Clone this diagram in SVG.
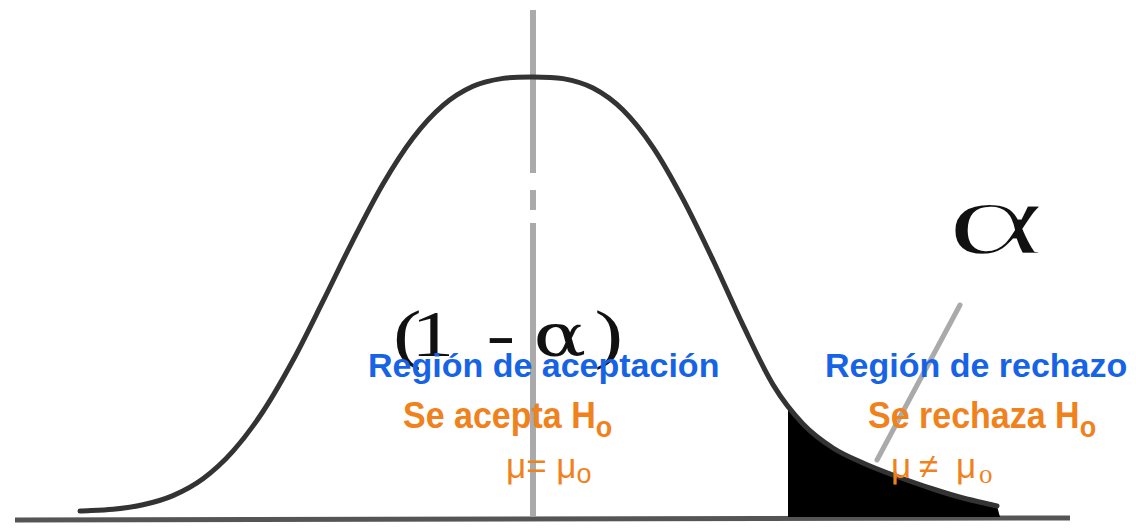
<svg xmlns="http://www.w3.org/2000/svg" width="1136" height="528" viewBox="0 0 1136 528">
<style>
.curve{fill:none;stroke:#333;stroke-width:5;stroke-linecap:round;stroke-linejoin:round}
.axis{stroke:#555;stroke-width:5}
.center{stroke:#aaa;stroke-width:6;fill:none}
.pointer{stroke:#aaa;stroke-width:5;stroke-linecap:round}
.greek{font-family:"Liberation Serif","Times New Roman",serif;fill:#111}
.blue{font-family:"Liberation Sans",Arial,sans-serif;font-weight:bold;font-size:34px;fill:#1763e6}
.orange{font-family:"Liberation Sans",Arial,sans-serif;font-weight:bold;font-size:34px;fill:#f0821e}
.mu{font-family:"Liberation Sans",Arial,sans-serif;font-size:35px;fill:#f0821e}
</style>
<defs>
<path id="bell" d="M80,511 C91,510.4 102.5,510.2 113,509.2 C123.5,508.2 133,507.1 143,504.8 C153,502.5 163,499.9 173,495.6 C183,491.2 193,486.1 203,478.7 C213,471.3 223,462.3 233,451.1 C243,439.9 253,426.6 263,411.5 C273,396.4 283,378.7 293,360.3 C303,341.9 313,321.2 323,301.2 C333,281.2 343,259.8 353,240.3 C363,220.8 373,201.1 383,184 C393,166.9 403,151.1 413,138 C423,124.9 433,114 443,105.4 C453,96.8 463,90.8 473,86.3 C483,81.8 493,80 503,78.4 C513,76.9 523,77 533,77 C543,77 553,77 563,78.6 C573,80.4 583,82.8 593,88 C603,93.2 613,100.1 623,110 C633,119.9 643,132.5 653,147.3 C663,162.2 673,180.3 683,199.1 C693,217.9 703,239 713,260 C723,281 733,304.4 743,325.2 C753,346 763,368.1 773,384.6 C783,401.1 793,413.4 803,424 C813,434.6 823,441.5 833,448 C843,454.5 853,458.5 863,463 C873,467.5 881.3,470.7 893,475 C904.7,479.3 921.3,485.2 933,489 C944.7,492.8 952.3,495.2 963,498 C973.7,500.8 985.7,503.3 997,506"/>
<clipPath id="tail"><rect x="788" y="300" width="214" height="217"/></clipPath>
</defs>
<rect width="1136" height="528" fill="#fff"/>
<g id="axis">
<line class="axis" x1="15" y1="520" x2="1070" y2="518"/>
</g>
<g id="center-line">
<path class="center" d="M533,10 V173 M533,190 V210 M533,223 V516"/>
</g>
<g id="rejection-area">
<path d="M80,511 C91,510.4 102.5,510.2 113,509.2 C123.5,508.2 133,507.1 143,504.8 C153,502.5 163,499.9 173,495.6 C183,491.2 193,486.1 203,478.7 C213,471.3 223,462.3 233,451.1 C243,439.9 253,426.6 263,411.5 C273,396.4 283,378.7 293,360.3 C303,341.9 313,321.2 323,301.2 C333,281.2 343,259.8 353,240.3 C363,220.8 373,201.1 383,184 C393,166.9 403,151.1 413,138 C423,124.9 433,114 443,105.4 C453,96.8 463,90.8 473,86.3 C483,81.8 493,80 503,78.4 C513,76.9 523,77 533,77 C543,77 553,77 563,78.6 C573,80.4 583,82.8 593,88 C603,93.2 613,100.1 623,110 C633,119.9 643,132.5 653,147.3 C663,162.2 673,180.3 683,199.1 C693,217.9 703,239 713,260 C723,281 733,304.4 743,325.2 C753,346 763,368.1 773,384.6 C783,401.1 793,413.4 803,424 C813,434.6 823,441.5 833,448 C843,454.5 853,458.5 863,463 C873,467.5 881.3,470.7 893,475 C904.7,479.3 921.3,485.2 933,489 C944.7,492.8 952.3,495.2 963,498 C973.7,500.8 985.7,503.3 997,506 L1000,517 L80,517 Z" fill="#000" clip-path="url(#tail)"/>
</g>
<g id="curve">
<use href="#bell" class="curve"/>
</g>
<g id="connectors">
<line class="pointer" x1="960" y1="305" x2="877" y2="460"/>
</g>
<g id="alpha-label">
<text class="greek" transform="translate(946,254) scale(1.75,0.98)" font-size="108" stroke="#fff" stroke-width="2.5">α</text>
</g>
<g id="one-minus-alpha">
<text class="greek" transform="translate(393,356) scale(1.3,1)" font-size="66">(<tspan x="14">1</tspan> <tspan x="72">-</tspan> <tspan x="108" font-family="DejaVu Serif, serif" font-size="60">α</tspan><tspan x="155">)</tspan></text>
</g>
<g id="acceptance">
<text class="blue" x="368" y="377">Región de aceptación</text>
<text class="orange" transform="translate(403,428) scale(1,1.1)">Se acepta H<tspan font-size="27" dy="8">o</tspan></text>
<text class="mu" x="506" y="478">μ= μ<tspan font-size="27" dy="5">o</tspan></text>
</g>
<g id="rejection">
<text class="blue" x="825" y="377">Región de rechazo</text>
<text class="orange" transform="translate(868,428) scale(1,1.1)">Se rechaza H<tspan font-size="27" dy="8">o</tspan></text>
<text class="mu" x="891" y="478">μ <tspan x="919">≠</tspan> <tspan x="956">μ</tspan><tspan x="979" dy="5" font-size="27" font-family="Liberation Serif, serif">o</tspan></text>
</g>
</svg>
